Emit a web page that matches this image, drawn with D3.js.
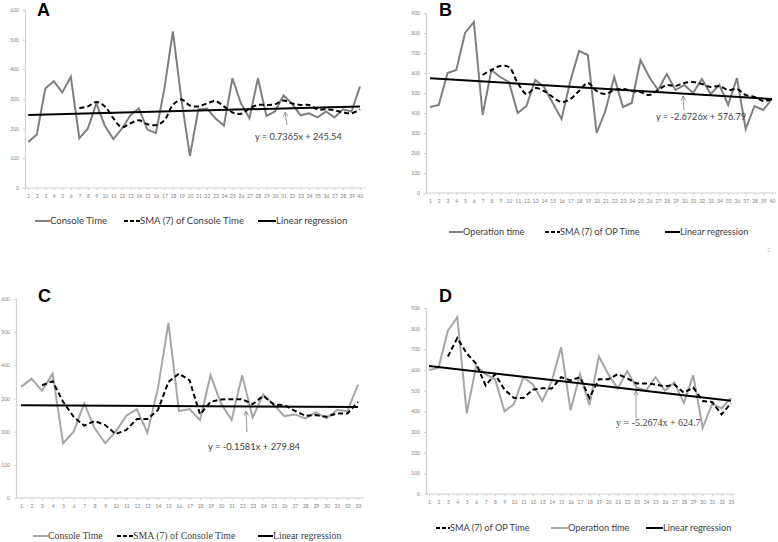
<!DOCTYPE html>
<html><head><meta charset="utf-8">
<script src="https://cdn.jsdelivr.net/npm/d3@7"></script>
<style>html,body{margin:0;padding:0;background:#fff;}svg{display:block;}</style>
</head><body>
<svg id="c" width="778" height="542"></svg>
<script>
// ---------- DATA ----------
const catsA = [1,2,3,4,5,6,7,8,9,10,11,12,13,14,15,16,17,18,19,20,21,22,23,24,25,26,27,28,29,30,31,32,33,34,35,36,37,38,39,40];
const catsB = [1,2,3,4,5,6,7,8,9,10,11,12,13,14,15,16,17,18,19,20,21,22,23,24,25,26,27,28,29,30,31,32,33,34,35,36,37,38,39,40];
const catsC = [1,2,3,4,5,6,7,8,9,10,11,12,13,14,15,16,17,18,19,20,21,22,23,24,25,26,27,28,29,30,31,32,33];
const catsD = [1,2,3,4,5,6,7,8,9,10,11,12,13,14,15,16,17,18,19,20,21,22,23,24,25,26,27,28,29,30,31,32,33];

const consoleTimeA = [155,180,335,360,322,375,168,200,285,210,165,200,245,268,197,185,335,528,300,108,265,268,235,210,370,285,235,370,243,258,312,285,245,252,238,258,238,265,258,342];
const smaA = [null,null,null,null,null,null,270,275,290,275,235,205,218,228,215,212,228,280,298,278,275,285,293,275,255,250,268,280,280,282,295,285,280,280,265,265,262,255,252,265];

const opTimeB = [430,440,600,615,800,855,390,615,580,555,400,435,565,530,450,370,560,710,690,300,410,580,430,450,665,580,515,595,515,540,500,570,495,540,440,575,320,435,415,470];
const smaB = [null,null,null,null,null,null,590,615,635,630,550,495,525,510,480,455,470,510,550,510,495,515,520,510,505,490,515,540,535,550,555,545,530,535,515,520,490,480,460,470];

const consoleTimeC = [335,360,323,375,165,200,285,210,165,200,248,268,197,330,528,262,268,235,370,285,235,370,243,312,282,247,252,240,258,240,265,262,342];
const smaC = [null,null,340,352,290,245,218,232,220,193,205,238,238,265,350,375,355,252,290,297,298,298,283,308,282,280,263,248,250,245,255,255,290];

const opTimeD = [600,610,790,855,390,620,580,555,400,435,565,530,450,545,710,405,580,430,665,580,510,595,515,500,565,500,540,440,575,320,435,415,465];
const smaD = [null,null,665,755,680,630,525,580,505,465,465,505,512,510,565,550,565,465,555,555,580,560,535,535,530,520,530,490,515,450,445,385,440];

const regSlopes = [0.7365, -2.6726, -0.1581, -5.2674];
const regIntercepts = [245.54, 576.79, 279.84, 624.7];
const equations = ["y = 0.7365x + 245.54", "y = -2.6726x + 576.79", "y = -0.1581x + 279.84", "y = -5.2674x + 624.7"];

const yTicks600 = [0,100,200,300,400,500,600];
const yTicks900 = [0,100,200,300,400,500,600,700,800,900];

const panelLetters = ["A","B","C","D"];
const legendA = ["Console Time","SMA (7) of Console Time","Linear regression"];
const legendB = ["Operation time","SMA (7) of OP Time","Linear regression"];
const legendC = ["Console Time","SMA (7) of Console Time","Linear regression"];
const legendD = ["SMA (7) of OP Time","Operation time","Linear regression"];

// ---------- LAYOUT ----------
const svg = d3.select("#c");
const SANS = "Lato, 'Open Sans', sans-serif";
const SERIF = "'Liberation Serif', 'DejaVu Serif', serif";

const panels = [
  {letter:panelLetters[0], cats:catsA, main:consoleTimeA, sma:smaA, ticks:yTicks600, yMax:600,
   axX:25, axR:366, x1:28.3, xN:360, yTop:10, yBot:188, lx:37, ly:16,
   mainColor:"#7f7f7f", smooth:true, reg:0, eq:{x:255,y:140,font:SANS,size:9.2},
   arrow:[287,125,285,112],
   legendY:221, legendFont:SANS, legendSize:9.6, legendText:legendA,
   legendItems:[{k:"main",x0:35,x1:50},{k:"sma",x0:124,x1:140},{k:"reg",x0:258,x1:276}]},
  {letter:panelLetters[1], cats:catsB, main:opTimeB, sma:smaB, ticks:yTicks900, yMax:900,
   axX:426, axR:776, x1:430, xN:772, yTop:13, yBot:193, lx:439, ly:16,
   mainColor:"#7f7f7f", smooth:true, reg:1, eq:{x:656,y:120,font:SANS,size:9.2},
   arrow:[684,110,683,96],
   legendY:232, legendFont:SANS, legendSize:9.2, legendText:legendB,
   legendItems:[{k:"main",x0:449,x1:463},{k:"sma",x0:545,x1:560},{k:"reg",x0:665,x1:680}]},
  {letter:panelLetters[2], cats:catsC, main:consoleTimeC, sma:smaC, ticks:yTicks600, yMax:600,
   axX:16, axR:364, x1:21, xN:358, yTop:299, yBot:498, lx:38, ly:302,
   mainColor:"#a6a6a6", smooth:false, reg:2, eq:{x:208,y:450,font:SANS,size:9.4},
   arrow:[247,432,246,411],
   legendY:536, legendFont:SERIF, legendSize:9.8, legendText:legendC,
   legendItems:[{k:"main",x0:33,x1:48},{k:"sma",x0:117,x1:133},{k:"reg",x0:258,x1:273}]},
  {letter:panelLetters[3], cats:catsD, main:opTimeD, sma:smaD, ticks:yTicks900, yMax:900,
   axX:426, axR:735, x1:429, xN:731, yTop:308, yBot:494, lx:439, ly:302,
   mainColor:"#a6a6a6", smooth:false, reg:3, eq:{x:616,y:426,font:SERIF,size:10},
   arrow:[636,418,636,391],
   legendY:528, legendFont:SANS, legendSize:9.2, legendText:legendD,
   legendItems:[{k:"sma",x0:436,x1:450},{k:"main",x0:551,x1:568},{k:"reg",x0:646,x1:663}]}
];

function styleFor(k, p, sel){
  if(k==="main") sel.attr("stroke",p.mainColor).attr("stroke-width",2);
  else if(k==="sma") sel.attr("stroke","#000").attr("stroke-width",2).attr("stroke-dasharray","4,2");
  else sel.attr("stroke","#000").attr("stroke-width",2);
}

panels.forEach(p=>{
  const g = svg.append("g");
  const x = d3.scalePoint().domain(p.cats).range([p.x1,p.xN]);
  const y = d3.scaleLinear().domain([0,p.yMax]).range([p.yBot,p.yTop]);

  // y axis
  const ya = g.append("g").attr("transform",`translate(${p.axX},0)`)
    .call(d3.axisLeft(y).tickValues(p.ticks).tickSize(2).tickPadding(4));
  ya.select(".domain").attr("stroke","#d0d0d0").attr("stroke-width",1.2);
  ya.selectAll(".tick line").attr("stroke","#d0d0d0");
  ya.selectAll("text").attr("fill","#7f7f7f").style("font-family",SANS).style("font-size","5px");

  // x axis
  const xa = g.append("g").attr("transform",`translate(0,${p.yBot})`)
    .call(d3.axisBottom(x).tickSize(2).tickPadding(4));
  xa.select(".domain").attr("d",`M${p.axX},0H${p.axR}`).attr("stroke","#d0d0d0").attr("stroke-width",1.2);
  xa.selectAll(".tick line").attr("stroke","#d0d0d0");
  xa.selectAll("text").attr("fill","#7f7f7f").style("font-family",SANS).style("font-size","5px");

  // main series
  const lineMain = d3.line().x((d,i)=>x(p.cats[i])).y(d=>y(d));
  g.append("path").datum(p.main).attr("d",lineMain).attr("fill","none")
    .attr("stroke",p.mainColor).attr("stroke-width",2).attr("stroke-linejoin","miter");

  // SMA
  const lineSma = d3.line().defined(d=>d!==null).x((d,i)=>x(p.cats[i])).y(d=>y(d))
    .curve(p.smooth ? d3.curveCatmullRom.alpha(0.5) : d3.curveLinear);
  g.append("path").datum(p.sma).attr("d",lineSma).attr("fill","none")
    .attr("stroke","#000").attr("stroke-width",2).attr("stroke-dasharray","5,3");

  // regression
  const s = regSlopes[p.reg], b = regIntercepts[p.reg];
  const c0 = p.cats[0], c1 = p.cats[p.cats.length-1];
  g.append("line").attr("x1",x(c0)).attr("y1",y(s*c0+b)).attr("x2",x(c1)).attr("y2",y(s*c1+b))
    .attr("stroke","#000").attr("stroke-width",2);

  // arrow
  const [ax0,ay0,ax1,ay1] = p.arrow;
  const ang = Math.atan2(ay1-ay0, ax1-ax0);
  const hl = 5, ha = 0.45;
  g.append("path")
    .attr("d",`M${ax0},${ay0}L${ax1},${ay1}M${ax1-hl*Math.cos(ang-ha)},${ay1-hl*Math.sin(ang-ha)}L${ax1},${ay1}L${ax1-hl*Math.cos(ang+ha)},${ay1-hl*Math.sin(ang+ha)}`)
    .attr("fill","none").attr("stroke","#7f7f7f").attr("stroke-width",0.8);

  // equation
  g.append("text").attr("x",p.eq.x).attr("y",p.eq.y).text(equations[p.reg])
    .style("font-family",p.eq.font).style("font-size",p.eq.size+"px").attr("fill","#404040");

  // letter
  g.append("text").attr("x",p.lx).attr("y",p.ly).text(p.letter)
    .style("font-family","'Liberation Sans', Arial, sans-serif").style("font-weight","bold")
    .style("font-size","18px").attr("fill","#000");

  // legend
  p.legendItems.forEach((it,i)=>{
    const ln = g.append("line").attr("x1",it.x0).attr("x2",it.x1).attr("y1",p.legendY).attr("y2",p.legendY);
    styleFor(it.k,p,ln);
    g.append("text").attr("x",it.x1).attr("y",p.legendY).attr("dy","0.35em").text(p.legendText[i])
      .style("font-family",p.legendFont).style("font-size",p.legendSize+"px").attr("fill","#404040");
  });
});

// page number mark
svg.append("text").attr("x",767).attr("y",252).text("2")
  .style("font-family",SANS).style("font-size","6px").attr("fill","#bfbfbf");
</script>
</body></html>
